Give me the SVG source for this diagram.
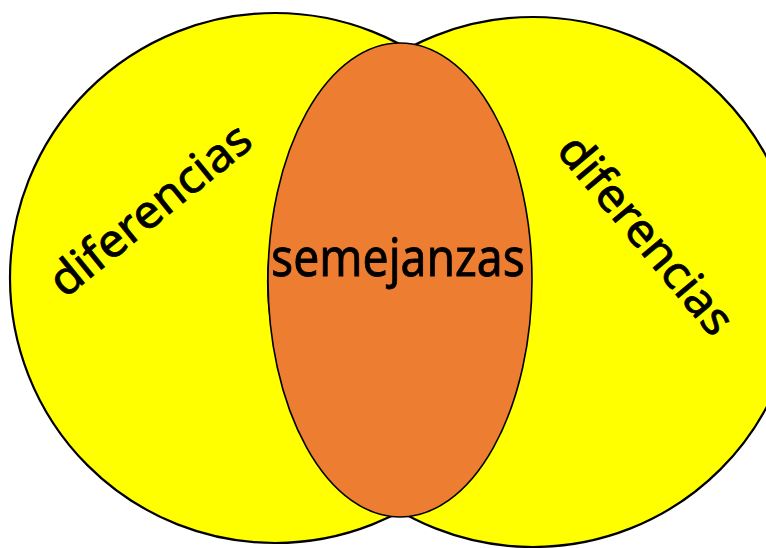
<svg xmlns="http://www.w3.org/2000/svg" width="766" height="548" viewBox="0 0 766 548">
<style>
.set{fill:#ffff00;stroke:#000;stroke-width:2.2}
.mid{fill:#ed7d31;stroke:#000;stroke-width:1.6}
.lbl{font-family:"Noto Sans",sans-serif;fill:#000;stroke:#000;stroke-width:0.8;text-anchor:middle}
</style>
<rect width="766" height="548" fill="#fff"/>
<g id="left-set">
<circle class="set" cx="275" cy="278" r="265"/>
</g>
<g id="right-set">
<circle class="set" cx="533" cy="282" r="265"/>
</g>
<g id="intersection">
<ellipse class="mid" cx="400" cy="280" rx="132" ry="237"/>
</g>
<g id="connectors"></g>
<g id="labels">
<text class="lbl" font-size="46" transform="translate(160,222) rotate(-39)" textLength="245" lengthAdjust="spacingAndGlyphs">diferencias</text>
<text class="lbl" font-size="46" transform="translate(634,245) rotate(50)" textLength="245" lengthAdjust="spacingAndGlyphs">diferencias</text>
<text class="lbl" font-size="52" x="398" y="276" textLength="254" lengthAdjust="spacingAndGlyphs">semejanzas</text>
</g>
</svg>
